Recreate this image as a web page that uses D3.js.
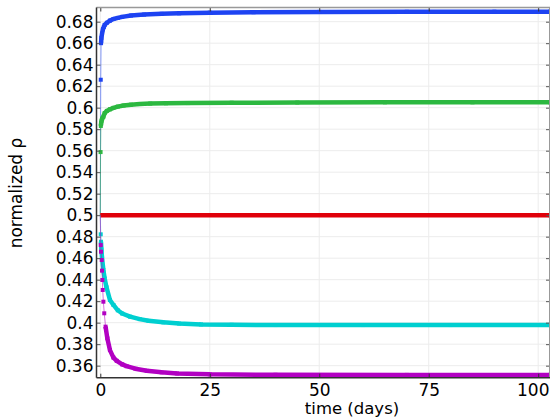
<!DOCTYPE html>
<html>
<head>
<meta charset="utf-8">
<script src="https://cdn.jsdelivr.net/npm/d3@7"></script>
<style>
  body { margin: 0; background: #fff; }
  text { font-family: "DejaVu Sans", sans-serif; fill: #000; }
</style>
</head>
<body>
<div id="chart"></div>
<script>
// Values (time in days, normalized rho)
const blueT = [0, 0.1, 0.17, 0.25, 0.4, 0.6, 0.8, 1.0, 1.5, 2.2, 3, 4, 5, 7, 10, 14, 18, 25, 35, 50, 70, 90, 102.7];
const blueV = [0.5, 0.626, 0.660, 0.665, 0.669, 0.673, 0.675, 0.677, 0.679, 0.681, 0.6825, 0.6835, 0.6845, 0.6857, 0.6866, 0.6873, 0.6878, 0.6884, 0.6888, 0.6891, 0.6892, 0.6893, 0.6893];

const greenT = [0, 0.06, 0.12, 0.2, 0.3, 0.45, 0.7, 1.0, 1.5, 2.2, 3, 4, 5.3, 7, 9, 11.4, 15, 20, 30, 45, 65, 85, 102.7];
const greenV = [0.5, 0.5587, 0.583, 0.586, 0.588, 0.590, 0.5916, 0.595, 0.597, 0.5985, 0.5998, 0.601, 0.602, 0.6028, 0.6034, 0.6038, 0.6041, 0.6043, 0.6046, 0.6048, 0.605, 0.605, 0.605];

const redT = [0, 102.7];
const redV = [0.5, 0.5];

const cyanT = [0, 0.1, 0.15, 0.25, 0.4, 0.7, 1.0, 1.4, 2.2, 3, 4, 5, 6.8, 9, 11, 14.4, 18, 23, 30, 40, 60, 80, 102.7];
const cyanV = [0.5, 0.4822, 0.4753, 0.468, 0.460, 0.449, 0.441, 0.433, 0.4211, 0.4165, 0.4115, 0.4085, 0.4056, 0.4033, 0.4018, 0.4003, 0.3992, 0.3984, 0.398, 0.3978, 0.3978, 0.3978, 0.3978];

const magentaT = [0, 0.1, 0.16, 0.32, 0.39, 0.46, 0.55, 0.7, 0.9, 1.2, 1.6, 2.2, 3, 3.75, 5, 6, 8, 10.6, 14, 17.5, 25, 40, 70, 102.7];
const magentaV = [0.5, 0.4722, 0.466, 0.4583, 0.4484, 0.4397, 0.4304, 0.4195, 0.4087, 0.3963, 0.3855, 0.3745, 0.3675, 0.3645, 0.3612, 0.3595, 0.3572, 0.3553, 0.3538, 0.3528, 0.3519, 0.3515, 0.3514, 0.3514];

const xTicks = [0, 25, 50, 75, 100];
const yTicks = [0.36, 0.38, 0.4, 0.42, 0.44, 0.46, 0.48, 0.5, 0.52, 0.54, 0.56, 0.58, 0.6, 0.62, 0.64, 0.66, 0.68];

const series = [
  { t: blueT, v: blueV, color: "#1d43f2", dense: 2 },
  { t: greenT, v: greenV, color: "#2cb840", dense: 2 },
  { t: redT, v: redV, color: "#e0000a", dense: 0 },
  { t: cyanT, v: cyanV, color: "#00cfd0", dense: 2 },
  { t: magentaT, v: magentaV, color: "#b200c2", dense: 9 }
];

const width = 550;
const height = 417;
const pLeft = 96.5, pRight = 550, pTop = 7.5, pBottom = 377.7;

const svg = d3.select("#chart")
  .append("svg")
  .attr("width", width)
  .attr("height", height);

const x = d3.scaleLinear().domain([-0.87, 102.7]).range([pLeft, pRight]);
const y = d3.scaleLinear().domain([0.3488, 0.6932]).range([pBottom, pTop]);

// grid
svg.append("g").selectAll("line").data(xTicks).enter().append("line")
  .attr("x1", d => x(d)).attr("x2", d => x(d))
  .attr("y1", pTop).attr("y2", pBottom)
  .attr("stroke", "#ececec").attr("stroke-width", 1);
svg.append("g").selectAll("line").data(yTicks).enter().append("line")
  .attr("x1", pLeft).attr("x2", pRight)
  .attr("y1", d => y(d)).attr("y2", d => y(d))
  .attr("stroke", "#ececec").attr("stroke-width", 1);

svg.append("clipPath").attr("id", "clip")
  .append("rect").attr("x", pLeft).attr("y", pTop)
  .attr("width", pRight - pLeft).attr("height", pBottom - pTop);

const plot = svg.append("g").attr("clip-path", "url(#clip)");

const line = d3.line().x(d => x(d[0])).y(d => y(d[1]));

series.forEach(s => {
  const pts = s.t.map((t, i) => [t, s.v[i]]);
  plot.append("path")
    .attr("d", line(pts))
    .attr("fill", "none")
    .attr("stroke", s.color)
    .attr("stroke-opacity", 0.55)
    .attr("stroke-width", 1);
  plot.append("path")
    .attr("d", line(pts.slice(s.dense)))
    .attr("fill", "none")
    .attr("stroke", s.color)
    .attr("stroke-width", 4.5)
    .attr("stroke-linejoin", "round");
  plot.selectAll(null).data(pts.slice(1)).enter().append("rect")
    .attr("x", d => x(d[0]) - 2)
    .attr("y", d => y(d[1]) - 2)
    .attr("width", 4).attr("height", 4)
    .attr("fill", s.color);
});

// axes (ticks inside)
const xAxis = svg.append("g")
  .attr("transform", `translate(0,${pBottom})`)
  .call(d3.axisBottom(x).tickValues(xTicks).tickSizeInner(-4).tickSizeOuter(0).tickPadding(6).tickFormat(d3.format("d")));
xAxis.select(".domain").remove();
xAxis.selectAll("text").attr("font-size", 17);
xAxis.selectAll("line").attr("stroke", "#333");
// keep the last label inside the picture
xAxis.selectAll("text").filter(d => d === 100)
  .attr("text-anchor", "end").attr("x", pRight - 1 - x(100));

const xTop = svg.append("g")
  .attr("transform", `translate(0,${pTop})`)
  .call(d3.axisTop(x).tickValues(xTicks).tickSizeInner(-4).tickSizeOuter(0).tickFormat(""));
xTop.select(".domain").remove();
xTop.selectAll("line").attr("stroke", "#333");

const yAxis = svg.append("g")
  .attr("transform", `translate(${pLeft},0)`)
  .call(d3.axisLeft(y).tickValues(yTicks).tickSizeInner(-4).tickSizeOuter(0).tickPadding(3).tickFormat(d => +d.toFixed(2)));
yAxis.select(".domain").remove();
yAxis.selectAll("text").attr("font-size", 17);
yAxis.selectAll("line").attr("stroke", "#555");

const yRight = svg.append("g")
  .attr("transform", `translate(${pRight},0)`)
  .call(d3.axisRight(y).tickValues(yTicks).tickSizeInner(-4).tickSizeOuter(0).tickFormat(""));
yRight.select(".domain").remove();
yRight.selectAll("line").attr("stroke", "#555");

// frame
svg.append("line").attr("x1", pLeft).attr("x2", pRight).attr("y1", pTop).attr("y2", pTop)
  .attr("stroke", "#999").attr("stroke-width", 1.5);
svg.append("line").attr("x1", pRight - 0.5).attr("x2", pRight - 0.5).attr("y1", pTop).attr("y2", pBottom)
  .attr("stroke", "#999").attr("stroke-width", 1);
svg.append("line").attr("x1", pLeft).attr("x2", pLeft).attr("y1", pTop).attr("y2", pBottom)
  .attr("stroke", "#333").attr("stroke-width", 1.5);
svg.append("line").attr("x1", pLeft).attr("x2", pRight).attr("y1", pBottom).attr("y2", pBottom)
  .attr("stroke", "#333").attr("stroke-width", 1.5);

// axis labels
svg.append("text")
  .attr("x", 352).attr("y", 413.5)
  .attr("text-anchor", "middle")
  .attr("font-size", 16.5)
  .text("time (days)");

svg.append("text")
  .attr("transform", "translate(22,193) rotate(-90)")
  .attr("text-anchor", "middle")
  .attr("font-size", 17)
  .text("normalized ρ");
</script>
</body>
</html>
